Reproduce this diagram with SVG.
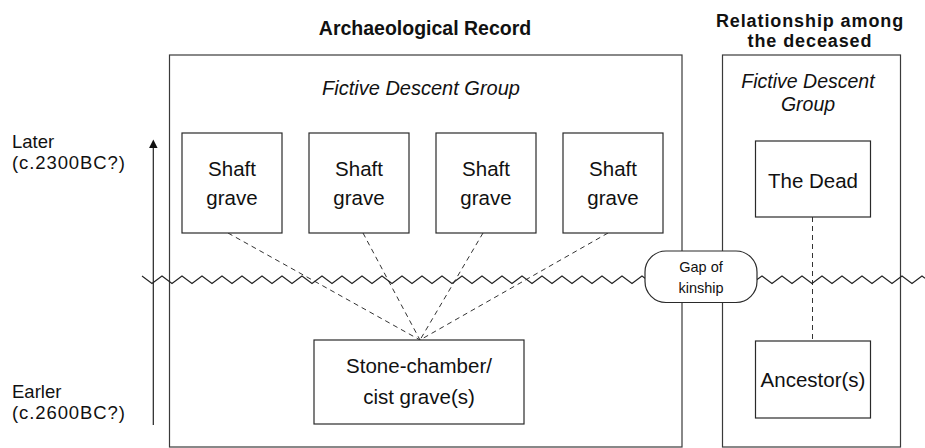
<svg xmlns="http://www.w3.org/2000/svg" width="925" height="448" viewBox="0 0 925 448">
<style>
  text { font-family: "Liberation Sans", Arial, Helvetica, sans-serif; fill: #111; }
  .title { font-size: 19.5px; font-weight: bold; text-anchor: middle; }
  .title2 { font-size: 18px; font-weight: bold; text-anchor: middle; letter-spacing: 0.9px; }
  .ital { font-size: 20px; font-style: italic; text-anchor: middle; }
  .ital2 { font-size: 19.5px; font-style: italic; text-anchor: middle; }
  .lbl { font-size: 20.5px; text-anchor: middle; }
  .side { font-size: 18.5px; }
  .small { font-size: 14.5px; text-anchor: middle; }
  .frame { fill: none; stroke: #3a3a3a; stroke-width: 1.2; }
  .box { fill: #fff; stroke: #2a2a2a; stroke-width: 1.2; }
  .dash { fill: none; stroke: #333; stroke-width: 1; stroke-dasharray: 5 4; }
  .zig { fill: none; stroke: #222; stroke-width: 1.1; stroke-linejoin: miter; }
  .axis { fill: none; stroke: #222; stroke-width: 1.2; }
</style>
<defs>
  <marker id="arrow" viewBox="0 0 10 10" refX="0" refY="5" markerWidth="10" markerHeight="8.5" markerUnits="userSpaceOnUse" orient="auto">
    <path d="M0,0 L10,5 L0,10 z" fill="#111"/>
  </marker>
</defs>
<rect width="925" height="448" fill="#fff"/>

<g id="titles">
  <text class="title" x="425" y="35">Archaeological Record</text>
  <text class="title2" x="810" y="27">Relationship among</text>
  <text class="title2" x="810" y="47">the deceased</text>
</g>

<g id="time-axis">
  <text class="side" x="12" y="148">Later</text>
  <text class="side" x="12" y="169" letter-spacing="0.9">(c.2300BC?)</text>
  <text class="side" x="12" y="398">Earler</text>
  <text class="side" x="12" y="419" letter-spacing="0.9">(c.2600BC?)</text>
  <line class="axis" x1="153.3" y1="425" x2="153.3" y2="148" marker-end="url(#arrow)"/>
</g>

<g id="archaeological-record">
  <rect class="frame" x="169.5" y="55" width="512.5" height="392"/>
  <text class="ital" x="421" y="95">Fictive Descent Group</text>
</g>

<g id="relationship">
  <rect class="frame" x="722.5" y="55" width="178" height="392"/>
  <text class="ital2" x="808" y="88">Fictive Descent</text>
  <text class="ital2" x="808" y="111">Group</text>
</g>

<g id="connectors">
  <line class="dash" x1="228" y1="233" x2="420" y2="340"/>
  <line class="dash" x1="363" y1="233" x2="420" y2="340"/>
  <line class="dash" x1="483" y1="233" x2="420" y2="340"/>
  <line class="dash" x1="608" y1="233" x2="420" y2="340"/>
  <line class="dash" x1="812.5" y1="217" x2="812.5" y2="341" stroke-dasharray="6 5"/>
</g>

<g id="shaft-grave-1">
  <rect class="box" x="182" y="133" width="100" height="100"/>
  <text class="lbl" x="232" y="176">Shaft</text>
  <text class="lbl" x="232" y="205">grave</text>
</g>
<g id="shaft-grave-2">
  <rect class="box" x="309" y="133" width="100" height="100"/>
  <text class="lbl" x="359" y="176">Shaft</text>
  <text class="lbl" x="359" y="205">grave</text>
</g>
<g id="shaft-grave-3">
  <rect class="box" x="436" y="133" width="100" height="100"/>
  <text class="lbl" x="486" y="176">Shaft</text>
  <text class="lbl" x="486" y="205">grave</text>
</g>
<g id="shaft-grave-4">
  <rect class="box" x="563" y="133" width="100" height="100"/>
  <text class="lbl" x="613" y="176">Shaft</text>
  <text class="lbl" x="613" y="205">grave</text>
</g>

<g id="stone-chamber">
  <rect class="box" x="314" y="340" width="210" height="84"/>
  <text class="lbl" x="419" y="373">Stone-chamber/</text>
  <text class="lbl" x="419" y="404">cist grave(s)</text>
</g>

<g id="the-dead">
  <rect class="box" x="755.5" y="141" width="115" height="76"/>
  <text class="lbl" x="813" y="188">The Dead</text>
</g>

<g id="ancestors">
  <rect class="box" x="755.5" y="341" width="115" height="77"/>
  <text class="lbl" x="813" y="387">Ancestor(s)</text>
</g>

<g id="time-break">
  <polyline class="zig" points="142,276 152,283.5 162,276 172,283.5 182,276 192,283.5 202,276 212,283.5 222,276 232,283.5 242,276 252,283.5 262,276 272,283.5 282,276 292,283.5 302,276 312,283.5 322,276 332,283.5 342,276 352,283.5 362,276 372,283.5 382,276 392,283.5 402,276 412,283.5 422,276 432,283.5 442,276 452,283.5 462,276 472,283.5 482,276 492,283.5 502,276 512,283.5 522,276 532,283.5 542,276 552,283.5 562,276 572,283.5 582,276 592,283.5 602,276 612,283.5 622,276 632,283.5 642,276 647,279.75"/>
  <polyline class="zig" points="755,281 762,276 772,283.5 782,276 792,283.5 802,276 812,283.5 822,276 832,283.5 842,276 852,283.5 862,276 872,283.5 882,276 892,283.5 902,276 912,283.5 922,276 925,278.25"/>
</g>

<g id="gap-of-kinship">
  <rect class="box" x="645" y="251" width="112" height="51.5" rx="21" ry="21"/>
  <text class="small" x="701" y="271.5">Gap of</text>
  <text class="small" x="701" y="292.5">kinship</text>
</g>
</svg>
